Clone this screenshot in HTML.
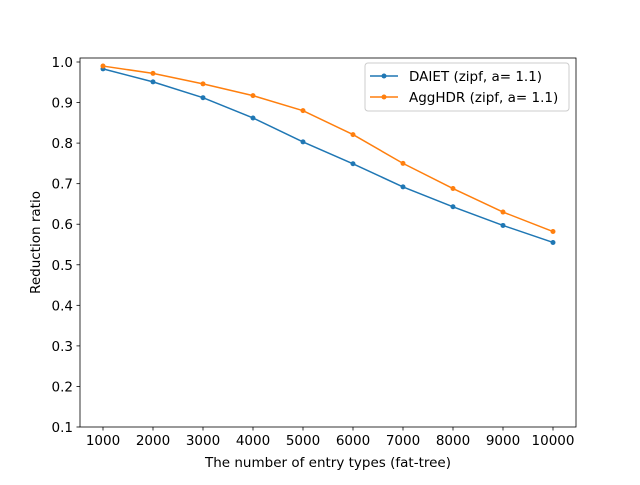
<!DOCTYPE html>
<html><head><meta charset="utf-8"><style>
body{margin:0;background:#fff}
svg{font-family:"DejaVu Sans","Liberation Sans",sans-serif}
</style></head><body>
<svg id="chart" width="640" height="480">
<rect width="640" height="480" fill="#fff"/>
<g id="plot"></g>
</svg>
<script>
const categories=[1000,2000,3000,4000,5000,6000,7000,8000,9000,10000];
const daietValues=[0.983,0.951,0.912,0.862,0.803,0.749,0.692,0.643,0.597,0.555];
const agghdrValues=[0.990,0.972,0.946,0.917,0.880,0.821,0.750,0.688,0.630,0.582];
const yTicks=[0.1,0.2,0.3,0.4,0.5,0.6,0.7,0.8,0.9,1.0];
const yTickLabels=["0.1","0.2","0.3","0.4","0.5","0.6","0.7","0.8","0.9","1.0"];
const xTickLabels=["1000","2000","3000","4000","5000","6000","7000","8000","9000","10000"];

const L=80,R=576,T=58,B=427;
const FS=13.5;
const xs=v=>103+(v-1000)*(450/9000);
const ys=v=>427-(v-0.1)*(365/0.9);
const NS="http://www.w3.org/2000/svg";
const g=document.getElementById('plot');
function el(tag,attrs,parent){const e=document.createElementNS(NS,tag);for(const k in attrs)e.setAttribute(k,attrs[k]);(parent||g).appendChild(e);return e;}

const frame=el('rect',{x:L,y:T,width:R-L,height:B-T,fill:'none',stroke:'#000','stroke-width':0.8});



categories.forEach((c,i)=>{
  const x=xs(c);
  const t=el('line',{x1:x,x2:x,y1:B,y2:B+3.5,stroke:'#000','stroke-width':0.8});
  
  
  const tx=el('text',{x:x,y:B+18,'font-size':FS,'text-anchor':'middle',fill:'#000'});
  tx.textContent=xTickLabels[i];
  
  
});
yTicks.forEach((v,i)=>{
  const y=ys(v);
  const t=el('line',{x1:L-3.5,x2:L,y1:y,y2:y,stroke:'#000','stroke-width':0.8});
  
  
  const tx=el('text',{x:L-7,y:y+5,'font-size':FS,'text-anchor':'end',fill:'#000'});
  tx.textContent=yTickLabels[i];
  
  
});

const xt=el('text',{x:(L+R)/2,y:467,'font-size':FS,'text-anchor':'middle'});
xt.textContent='The number of entry types (fat-tree)';


const yt=el('text',{x:0,y:0,'font-size':FS,'text-anchor':'middle',transform:`translate(40,${(T+B)/2}) rotate(-90)`});
yt.textContent='Reduction ratio';



function series(vals,color,name){
  const pts=vals.map((v,i)=>xs(categories[i])+','+ys(v)).join(' ');
  const p=el('polyline',{points:pts,fill:'none',stroke:color,'stroke-width':1.5});
  
  
  vals.forEach((v,i)=>{
    const c=el('circle',{cx:xs(categories[i]),cy:ys(v),r:2.5,fill:color});
    
    
  });
}
series(daietValues,'#1f77b4','daiet');
series(agghdrValues,'#ff7f0e','agghdr');

const lg=el('g',{});


el('rect',{x:365,y:63,width:204,height:48,rx:3,fill:'#fff',stroke:'#ccc','stroke-width':1},lg);
[['DAIET (zipf, a= 1.1)','#1f77b4',76],['AggHDR (zipf, a= 1.1)','#ff7f0e',97]].forEach(([t,c,y])=>{
  const e=el('g',{},lg);
  
  
  el('line',{x1:370,x2:398,y1:y,y2:y,stroke:c,'stroke-width':1.5},e);
  el('circle',{cx:384,cy:y,r:2.5,fill:c},e);
  const tx=el('text',{x:409,y:y+5,'font-size':FS},e);
  tx.textContent=t;
});
</script>
</body></html>
